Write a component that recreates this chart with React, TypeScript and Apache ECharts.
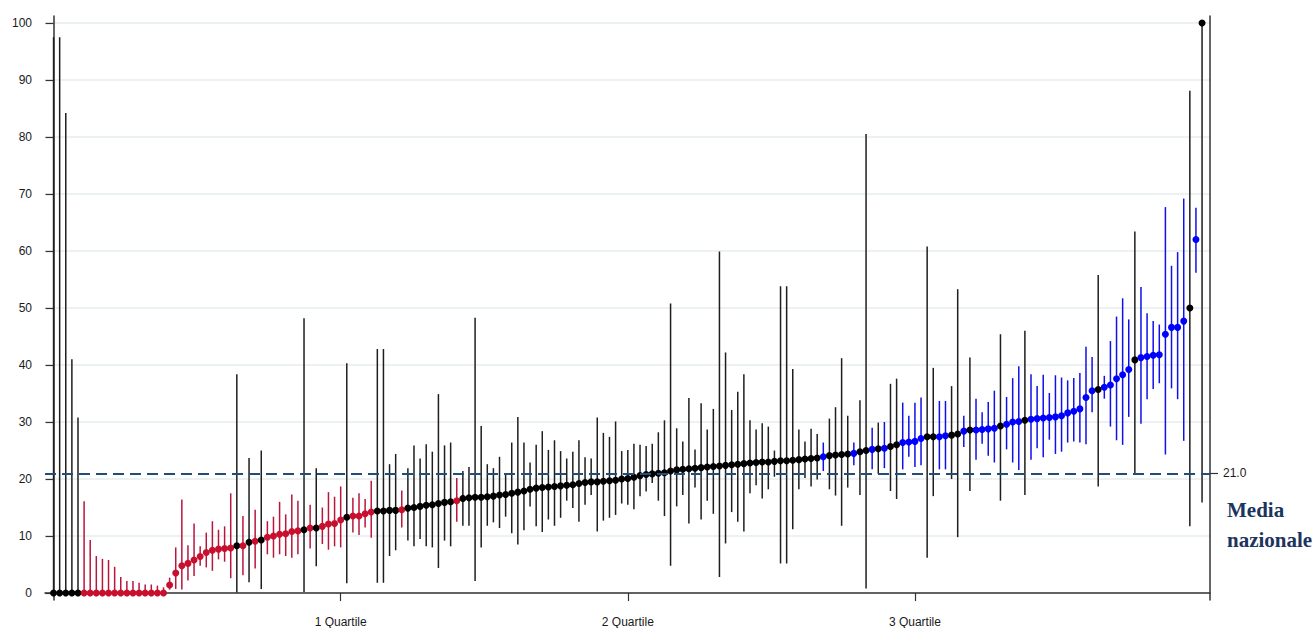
import React, { useEffect, useRef } from "react";
import * as echarts from "echarts";

// ---- data (index order, sorted by value) ----
const VALUES = [
  0, 0, 0, 0, 0, 0, 0, 0, 0, 0,
  0, 0, 0, 0, 0, 0, 0, 0, 0, 1.4,
  3.5, 4.8, 5.2, 5.8, 6.4, 7.1, 7.5, 7.7, 7.8, 7.9,
  8.3, 8.3, 8.9, 9.1, 9.3, 9.8, 10.0, 10.3, 10.4, 10.8,
  10.9, 11.1, 11.4, 11.4, 11.7, 12.1, 12.2, 12.8, 13.3, 13.5,
  13.5, 13.9, 14.2, 14.4, 14.4, 14.5, 14.5, 14.6, 14.9, 15.0,
  15.2, 15.4, 15.5, 15.7, 15.9, 16.0, 16.2, 16.6, 16.7, 16.8,
  16.8, 16.9, 17.0, 17.2, 17.3, 17.5, 17.7, 17.9, 18.2, 18.4,
  18.5, 18.6, 18.7, 18.8, 18.9, 19.0, 19.2, 19.4, 19.5, 19.5,
  19.6, 19.7, 19.8, 20.0, 20.1, 20.3, 20.6, 20.8, 20.9, 21.0,
  21.1, 21.4, 21.6, 21.7, 21.8, 21.9, 22.0, 22.1, 22.2, 22.3,
  22.4, 22.5, 22.6, 22.7, 22.8, 22.9, 23.0, 23.0, 23.1, 23.2,
  23.2, 23.3, 23.4, 23.5, 23.6, 23.7, 23.9, 24.1, 24.2, 24.3,
  24.4, 24.5, 24.8, 25.0, 25.2, 25.3, 25.4, 25.7, 26.0, 26.4,
  26.5, 26.6, 27.1, 27.4, 27.4, 27.4, 27.6, 27.7, 27.9, 28.4,
  28.6, 28.6, 28.7, 28.8, 28.9, 29.3, 29.6, 30.0, 30.1, 30.3,
  30.5, 30.6, 30.7, 30.8, 30.9, 31.1, 31.6, 31.9, 32.3, 34.3,
  35.5, 35.7, 36.1, 36.5, 37.6, 38.3, 39.2, 40.9, 41.3, 41.5,
  41.7, 41.8, 45.4, 46.6, 46.6, 47.7, 50.0, 62.0, 100,
];

const LOWER = [
  0, 0, 0, 0, 0, 0, 0, 0, 0, 0,
  0, 0, 0, 0, 0, 0, 0, 0, 0, 0.6,
  0.7, 0.6, 2.2, 3.0, 4.8, 4.5, 3.9, 5.9, 5.5, 2.6,
  0.1, 3.1, 1.9, 4.3, 0.7, 6.8, 6.2, 6.8, 6.5, 6.2,
  6.8, 0.2, 7.8, 4.7, 8.6, 7.6, 8.2, 8.0, 1.7, 10.6,
  10.2, 11.5, 9.7, 1.8, 1.8, 6.5, 7.5, 11.5, 9.2, 8.2,
  9.5, 8.2, 8.0, 4.4, 9.2, 8.2, 12.5, 11.8, 11.8, 2.1,
  8.0, 11.8, 12.4, 11.4, 13.4, 10.5, 8.5, 11.0, 15.2, 11.7,
  10.7, 12.9, 11.8, 13.2, 16.2, 14.9, 12.5, 15.5, 17.2, 10.8,
  12.7, 13.2, 13.7, 15.7, 15.5, 14.7, 17.0, 17.8, 19.3, 16.2,
  13.5, 4.8, 15.2, 17.2, 12.2, 18.5, 12.9, 16.2, 13.9, 2.8,
  8.7, 14.2, 12.5, 10.8, 17.5, 18.9, 16.6, 18.2, 20.4, 5.2,
  5.2, 11.2, 18.2, 20.2, 18.7, 19.9, 21.4, 18.2, 17.1, 11.8,
  18.5, 22.4, 17.2, 0.8, 21.7, 20.9, 21.9, 17.9, 16.5, 21.7,
  23.9, 22.1, 22.4, 6.2, 17.0, 21.7, 21.7, 20.0, 9.8, 25.6,
  17.9, 23.4, 26.2, 24.1, 22.9, 16.2, 25.2, 22.9, 21.6, 17.2,
  23.4, 25.4, 23.8, 26.9, 24.4, 24.8, 26.4, 26.6, 26.4, 26.1,
  31.7, 18.7, 34.1, 29.2, 26.8, 26.0, 30.9, 20.9, 29.7, 34.0,
  35.8, 36.8, 24.3, 35.9, 34.0, 26.7, 11.7, 56.2, 15.9,
];

const UPPER = [
  97.5, 97.5, 84.2, 41.0, 30.8, 16.1, 9.3, 6.5, 6.0, 5.8,
  4.6, 2.8, 2.1, 2.1, 1.8, 1.5, 1.5, 1.3, 1.0, 2.7,
  8.0, 16.4, 8.4, 12.2, 8.2, 10.6, 12.6, 11.1, 11.7, 17.5,
  38.4, 13.5, 23.7, 14.6, 25.0, 12.6, 13.4, 16.0, 13.8, 17.3,
  16.2, 48.2, 15.5, 21.9, 15.0, 17.7, 16.9, 18.7, 40.3, 16.7,
  17.5, 16.5, 19.7, 42.8, 42.8, 22.6, 24.4, 18.0, 21.9, 25.9,
  23.6, 26.1, 24.8, 34.9, 25.9, 26.4, 20.2, 21.4, 22.1, 48.3,
  29.3, 22.6, 21.9, 23.9, 20.9, 26.4, 30.9, 26.4, 22.9, 26.0,
  28.4, 25.1, 26.8, 24.9, 23.6, 24.8, 26.8, 23.8, 23.6, 30.8,
  28.1, 27.4, 30.1, 24.9, 25.1, 26.2, 26.0, 25.8, 26.2, 28.2,
  30.3, 50.8, 28.9, 26.6, 34.2, 25.2, 33.3, 28.7, 32.3, 59.9,
  42.2, 32.1, 35.3, 38.4, 30.3, 28.7, 29.8, 29.2, 25.0, 53.8,
  53.8, 39.3, 28.7, 26.6, 28.8, 27.9, 26.4, 30.6, 32.6, 41.2,
  31.1, 26.4, 33.8, 80.5, 29.0, 29.9, 30.0, 36.7, 37.6, 33.4,
  31.1, 33.4, 34.3, 60.8, 39.5, 33.7, 33.7, 36.3, 53.3, 31.1,
  41.3, 34.1, 31.7, 33.5, 35.5, 45.4, 34.4, 37.7, 39.8, 46.0,
  38.4, 36.3, 38.3, 35.1, 38.2, 37.8, 37.3, 37.7, 38.6, 43.2,
  41.4, 55.8, 38.1, 44.2, 48.5, 51.7, 48.0, 63.4, 53.7, 49.1,
  47.7, 47.1, 67.7, 57.4, 59.8, 69.2, 88.1, 67.6, 100,
];

// k = black (not significant), r = red (below), b = blue (above)
const GROUPS = (
  "kkkkkrrrrr" + "rrrrrrrrrr" + "rrrrrrrrrr" + "krkrkrrrrr" + "rkrkrrrrkr" +
  "rrrkkkkrkk" + "kkkkkkrkkk" + "kkkkkkkkkk" + "kkkkkkkkkk" + "kkkkkkkkkk" +
  "kkkkkkkkkk" + "kkkkkkkkkk" + "kkkkkkbkkk" + "kbkkbkbkkb" + "bbbkkbbkkb" +
  "kbbbbkbbbk" + "bbbbbbbbbb" + "bkbbbbbkbb" + "bbbbbbkbk"
).split("");

const QUARTILE_POS = [47, 94, 141];
const QUARTILE_LABELS = ["1 Quartile", "2 Quartile", "3 Quartile"];
const Y_TICKS = [0, 10, 20, 30, 40, 50, 60, 70, 80, 90, 100];
const NATIONAL_MEAN = 21;
const MEAN_LABEL = "Media\nnazionale";

const DOT_COLORS: Record<string, string> = { k: "#000000", r: "#c8102e", b: "#0000ff" };
const BAR_COLORS: Record<string, string> = { k: "#1e1e1e", r: "#b8173c", b: "#1010e8" };

export default function App() {
  const ref = useRef<HTMLDivElement>(null);

  useEffect(() => {
    if (!ref.current) return;
    const chart = echarts.init(ref.current, null, { renderer: "svg" });
    const n = VALUES.length;
    const yMin = -1.22;
    const yMax = 101.22;

    const barData = VALUES.map((_, i) => [i, LOWER[i], UPPER[i]]);
    const dotData = VALUES.map((v, i) => ({
      value: [i, v],
      itemStyle: { color: DOT_COLORS[GROUPS[i]], opacity: 1 },
    }));

    const axisFont = { fontFamily: "Liberation Sans, Arial, sans-serif", fontSize: 12, color: "#1a1a1a" };

    chart.setOption({
      animation: false,
      backgroundColor: "#ffffff",
      grid: { left: 45, right: 104, top: 16, bottom: 26, containLabel: false },
      xAxis: {
        type: "value",
        min: -1.4,
        max: n - 1 + 1.3,
        axisLine: { show: true, lineStyle: { color: "#333", width: 1.5 } },
        axisTick: { show: true, length: 8, customValues: QUARTILE_POS, lineStyle: { color: "#333", width: 1.2 } },
        axisLabel: {
          show: true,
          customValues: QUARTILE_POS,
          margin: 16,
          ...axisFont,
          formatter: (v: number) => {
            const k = QUARTILE_POS.indexOf(v);
            return k >= 0 ? QUARTILE_LABELS[k] : "";
          },
        },
        splitLine: { show: false },
      },
      yAxis: [
        {
          type: "value",
          position: "left",
          min: yMin,
          max: yMax,
          axisLine: { show: true, lineStyle: { color: "#333", width: 1.5 } },
          axisTick: { show: true, length: 8, customValues: Y_TICKS, lineStyle: { color: "#333", width: 1.2 } },
          axisLabel: { show: true, customValues: Y_TICKS, margin: 13, ...axisFont, formatter: (v: number) => String(v) },
          splitLine: { show: true, lineStyle: { color: "#e6edf0", width: 1.5 } },
        },
        {
          type: "value",
          position: "right",
          min: yMin,
          max: yMax,
          axisLine: { show: true, lineStyle: { color: "#333", width: 1.5 } },
          axisTick: { show: true, length: 8, customValues: [NATIONAL_MEAN], lineStyle: { color: "#333", width: 1.2 } },
          axisLabel: {
            show: true,
            customValues: [NATIONAL_MEAN],
            margin: 13,
            ...axisFont,
            formatter: (v: number) => v.toFixed(1),
          },
          splitLine: { show: false },
        },
      ],
      series: [
        {
          type: "custom",
          name: "ci",
          xAxisIndex: 0,
          yAxisIndex: 0,
          encode: { x: 0, y: [1, 2] },
          data: barData,
          z: 2,
          renderItem: (params: any, api: any) => {
            const x = api.value(0);
            const p1 = api.coord([x, api.value(1)]);
            const p2 = api.coord([x, api.value(2)]);
            return {
              type: "line",
              shape: { x1: p1[0], y1: p1[1], x2: p2[0], y2: p2[1] },
              style: { stroke: BAR_COLORS[GROUPS[params.dataIndex]], lineWidth: 1.5 },
            };
          },
          markLine: {
            silent: true,
            symbol: "none",
            label: { show: false },
            lineStyle: { color: "#1f4e79", type: [11, 6], width: 2 },
            data: [{ yAxis: NATIONAL_MEAN }],
          },
        },
        {
          type: "scatter",
          name: "points",
          xAxisIndex: 0,
          yAxisIndex: 0,
          symbol: "circle",
          symbolSize: 7,
          z: 4,
          itemStyle: { opacity: 1 },
          data: dotData,
        },
      ],
      graphic: [
        {
          type: "text",
          left: 1227,
          top: 495,
          style: {
            text: MEAN_LABEL,
            font: 'bold 21px "Liberation Serif", "Times New Roman", serif',
            fill: "#1c355e",
            lineHeight: 30,
          },
        },
      ],
    });

    return () => chart.dispose();
  }, []);

  return (
    <div
      ref={ref}
      style={{ position: "absolute", left: 0, top: 0, width: 1314, height: 628, background: "#fff" }}
    />
  );
}
